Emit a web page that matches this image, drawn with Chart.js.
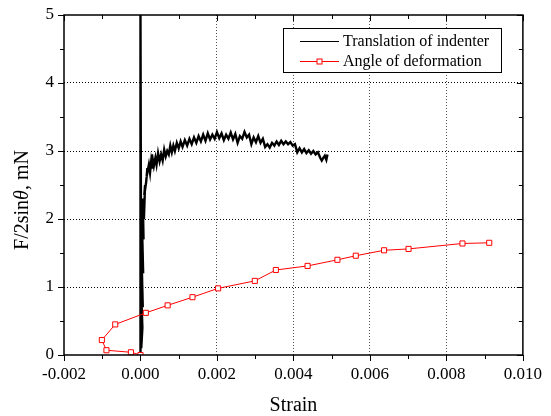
<!DOCTYPE html>
<html>
<head>
<meta charset="utf-8">
<script src="https://cdn.jsdelivr.net/npm/chart.js@4/dist/chart.umd.min.js"></script>
<style>
  html, body { margin: 0; padding: 0; background: #fff; }
  #wrap { width: 551px; height: 416px; }
</style>
</head>
<body>
<div id="wrap"><canvas id="strainChart" width="551" height="416"></canvas></div>
<script>
// Translation of indenter (noisy trace)
const indentStrain = [0, 0, 0.00002, 0.00005, 0.00002, 0.00006, 0.00003, 0.00007, 0.00004, 0.00008,
  0.00006, 0.00009, 0.00012, 0.00010,
  0.00015, 0.00018, 0.00016, 0.00022, 0.00025, 0.00028, 0.00031, 0.00030, 0.00035, 0.00039,
  0.00042, 0.00046, 0.00050, 0.00054, 0.00058, 0.00062, 0.00066, 0.00070, 0.00074, 0.00078,
  0.00082, 0.00086, 0.00090, 0.00095, 0.00100, 0.00105, 0.00110, 0.00116, 0.00122, 0.00128,
  0.00134, 0.00140, 0.00146, 0.00152, 0.00158, 0.00164, 0.00170, 0.00176, 0.00182, 0.00188,
  0.00194, 0.00200, 0.00206, 0.00212, 0.00218, 0.00224, 0.00230, 0.00236, 0.00242, 0.00248,
  0.00254, 0.00260, 0.00266, 0.00272, 0.00278, 0.00284, 0.00290, 0.00296, 0.00302, 0.00308,
  0.00314, 0.00320, 0.00326, 0.00332, 0.00338, 0.00344, 0.00350, 0.00356, 0.00362, 0.00368,
  0.00374, 0.00380, 0.00386, 0.00392, 0.00398, 0.00404, 0.00410, 0.00416, 0.00422, 0.00428,
  0.00434, 0.00440, 0.00446, 0.00452, 0.00458, 0.00464, 0.00470, 0.00474, 0.00478, 0.00482,
  0.00486, 0.00489];
const indentForce = [0, 5.0, 0.1, 0.4, 0.9, 0.7, 1.4, 1.2, 1.9, 1.7,
  2.3, 2.0, 2.5, 2.35,
  2.55, 2.75, 2.62, 2.8, 2.68, 2.85, 2.74, 2.95, 2.78, 2.9,
  2.8, 2.97, 2.85, 2.95, 2.86, 3.02, 2.92, 3.0, 2.95, 3.08,
  2.98, 3.08, 3.0, 3.12, 3.04, 3.14, 3.06, 3.16, 3.08, 3.18,
  3.1, 3.2, 3.12, 3.22, 3.14, 3.24, 3.15, 3.26, 3.17, 3.24,
  3.18, 3.28, 3.19, 3.26, 3.16, 3.24, 3.18, 3.27, 3.17, 3.25,
  3.12, 3.22, 3.18, 3.28, 3.2, 3.24, 3.1, 3.2, 3.13, 3.22,
  3.12, 3.18, 3.06, 3.1, 3.05, 3.12, 3.08, 3.14, 3.09, 3.15,
  3.1, 3.14, 3.1, 3.13, 3.08, 3.1, 2.98, 3.04, 2.98, 3.03,
  2.97, 3.01, 2.96, 3.0, 2.95, 2.98, 2.9, 2.86, 2.9, 2.93,
  2.87, 2.95];

// Angle of deformation
const angleStrain = [0, -0.00025, -0.00089, -0.00101, -0.00066, 0.00014, 0.00071, 0.00136,
  0.00203, 0.00299, 0.00354, 0.00437, 0.00515, 0.00563, 0.00637, 0.00701, 0.00842, 0.00912];
const angleForce = [0, 0.04, 0.07, 0.22, 0.45, 0.62, 0.73, 0.85,
  0.98, 1.09, 1.25, 1.31, 1.40, 1.46, 1.54, 1.56, 1.64, 1.65];

const seriesNames = ["Translation of indenter", "Angle of deformation"];
const xTitle = "Strain";

const serif = "'Liberation Serif', 'Times New Roman', serif";

const toPoints = (xs, ys) => xs.map((x, i) => ({ x: x, y: ys[i] }));

// box, inner/outer tick marks, legend and y title
const framePlugin = {
  id: "frame",
  afterDraw(chart) {
    const ctx = chart.ctx;
    const a = chart.chartArea;
    const xs = chart.scales.x, ys = chart.scales.y;
    ctx.save();
    ctx.strokeStyle = "#000";
    ctx.lineWidth = 1.5;
    ctx.strokeRect(a.left, a.top, a.right - a.left, a.bottom - a.top);

    const xt = xs.ticks.map(t => t.value);
    const yt = ys.ticks.map(t => t.value);
    ctx.lineWidth = 1;
    ctx.beginPath();
    const xTick = (v, len) => {
      const px = Math.round(xs.getPixelForValue(v)) + 0.5;
      ctx.moveTo(px, a.bottom); ctx.lineTo(px, a.bottom + len);
      ctx.moveTo(px, a.top); ctx.lineTo(px, a.top + len);
    };
    const yTick = (v, len) => {
      const py = Math.round(ys.getPixelForValue(v)) + 0.5;
      ctx.moveTo(a.left, py); ctx.lineTo(a.left - len, py);
      ctx.moveTo(a.right, py); ctx.lineTo(a.right - len, py);
    };
    xt.forEach((v, i) => {
      xTick(v, 6);
      if (i < xt.length - 1) xTick((v + xt[i + 1]) / 2, 4);
    });
    yt.forEach((v, i) => {
      yTick(v, 6);
      if (i < yt.length - 1) yTick((v + yt[i + 1]) / 2, 4);
    });
    ctx.stroke();

    // legend
    const lx = 283, ly = 28, lw = 218, lh = 44;
    ctx.fillStyle = "#fff";
    ctx.fillRect(lx, ly, lw, lh);
    ctx.strokeStyle = "#000";
    ctx.lineWidth = 1;
    ctx.strokeRect(lx + 0.5, ly + 0.5, lw, lh);
    ctx.font = "16px " + serif;
    ctx.textBaseline = "middle";
    ctx.fillStyle = "#000";
    const rows = [41.5, 61.5];
    chart.data.datasets.forEach((ds, i) => {
      const y = rows[i];
      ctx.strokeStyle = ds.borderColor;
      ctx.lineWidth = 1;
      ctx.beginPath();
      ctx.moveTo(300, y); ctx.lineTo(339, y);
      ctx.stroke();
      if (ds.pointRadius > 0) {
        ctx.fillStyle = "#fff";
        ctx.fillRect(317, y - 2.5, 5, 5);
        ctx.strokeRect(317, y - 2.5, 5, 5);
      }
      ctx.fillStyle = "#000";
      ctx.fillText(ds.label, 343, y);
    });

    // y title with italic theta
    ctx.translate(23, 200);
    ctx.rotate(-Math.PI / 2);
    const parts = [["F/2sin", "20px " + serif], ["\u03b8", "italic 20px " + serif], [", mN", "20px " + serif]];
    let total = 0;
    parts.forEach(p => { ctx.font = p[1]; total += ctx.measureText(p[0]).width; });
    let cx = -total / 2;
    ctx.textBaseline = "middle";
    ctx.textAlign = "left";
    ctx.fillStyle = "#000";
    parts.forEach(p => { ctx.font = p[1]; ctx.fillText(p[0], cx, 0); cx += ctx.measureText(p[0]).width; });
    ctx.restore();
  }
};

const ctx = document.getElementById("strainChart").getContext("2d");
const strainChart = new Chart(ctx, {
  type: "scatter",
  data: {
    datasets: [
      {
        label: seriesNames[0],
        data: toPoints(indentStrain, indentForce),
        showLine: true,
        borderColor: "#000",
        borderWidth: 2.4,
        pointRadius: 0,
        tension: 0,
        order: 2,
      },
      {
        label: seriesNames[1],
        data: toPoints(angleStrain, angleForce),
        showLine: true,
        borderColor: "#ff0000",
        borderWidth: 1,
        pointStyle: "rect",
        pointRadius: 3.6,
        pointBackgroundColor: "#fff",
        pointBorderColor: "#ff0000",
        pointBorderWidth: 1,
        tension: 0,
        order: 1,
      },
    ],
  },
  options: {
    responsive: false,
    animation: false,
    layout: { padding: { left: 0, right: 20, top: 15, bottom: 0 } },
    plugins: {
      legend: { display: false },
      tooltip: { enabled: false },
    },
    scales: {
      x: {
        type: "linear",
        min: -0.002,
        max: 0.010,
        afterFit(scale) { scale.height = 61; },
        ticks: {
          stepSize: 0.002,
          padding: 9,
          color: "#000",
          font: { family: serif, size: 17 },
          callback: v => (Math.abs(v) < 1e-9 ? 0 : v).toFixed(3),
        },
        grid: {
          drawTicks: false,
          color: ctx => (ctx.index === 0 || ctx.index === 6) ? "rgba(0,0,0,0)" : "#555",
        },
        border: { display: false, dash: [1, 2] },
        title: {
          display: true,
          text: xTitle,
          color: "#000",
          font: { family: serif, size: 20, lineHeight: 1 },
          padding: { top: 0, bottom: 0 },
        },
      },
      y: {
        min: 0,
        max: 5,
        afterFit(scale) { scale.width = 64; },
        ticks: {
          stepSize: 1,
          padding: 10,
          color: "#000",
          font: { family: serif, size: 17, lineHeight: 0.5 },
        },
        grid: {
          drawTicks: false,
          color: ctx => (ctx.index === 0 || ctx.index === 5) ? "rgba(0,0,0,0)" : "#000",
        },
        border: { display: false, dash: [1, 2] },
      },
    },
  },
  plugins: [framePlugin],
});
</script>
</body>
</html>
